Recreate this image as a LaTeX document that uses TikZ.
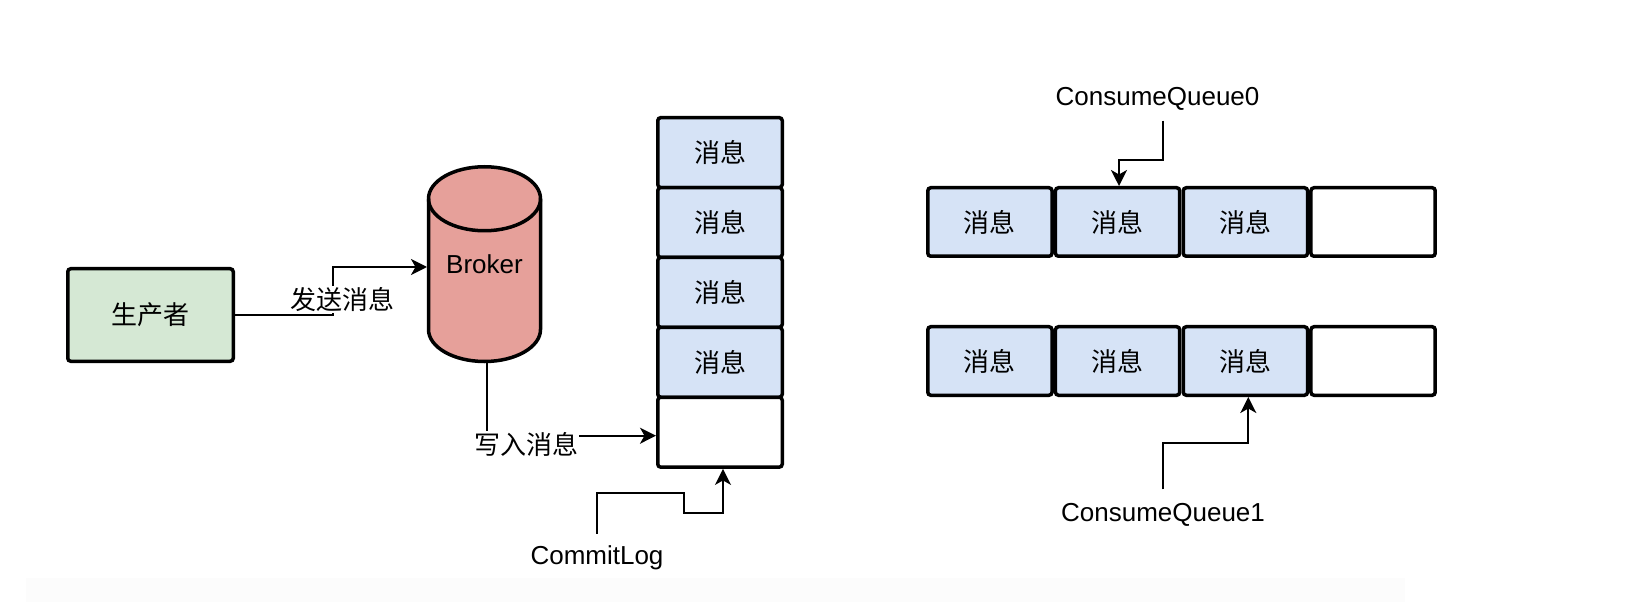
\documentclass[tikz,border=0pt]{standalone}
\usepackage{fontspec}
\setmainfont{Liberation Sans}
\newfontfamily\cjk{Noto Sans CJK SC}
\usetikzlibrary{arrows.meta}
\definecolor{grn}{HTML}{D5E8D4}
\definecolor{blu}{HTML}{D6E3F6}
\definecolor{redc}{HTML}{E6A09A}
\definecolor{stripc}{HTML}{FCFCFC}
\begin{document}
\begin{tikzpicture}[x=1pt,y=-1pt,
  box/.style={draw, line width=3.5pt, rounded corners=3pt, inner sep=0pt},
  cell/.style={box, fill=blu, font=\fontsize{26}{30}\selectfont\cjk},
  vcell/.style={cell, minimum width=124.5pt, minimum height=69.9pt},
  hcell/.style={cell, minimum width=124.25pt, minimum height=68.5pt},
  emptycell/.style={fill=white},
  conn/.style={line width=2.2pt},
  arr/.style={conn, -{Stealth[length=16pt,width=16pt,inset=4.5pt]}},
  lbl/.style={fill=white, inner sep=1pt, font=\fontsize{26}{30}\selectfont\cjk},
  txt/.style={inner sep=2pt, font=\fontsize{26}{30}\selectfont}
]
\useasboundingbox (0,0) rectangle (1652,612);
\fill[stripc] (26,578) rectangle (1405,602);

% producer
\node[box, fill=grn, minimum width=165.5pt, minimum height=92.5pt,
      font=\fontsize{26}{30}\selectfont\cjk] (prod) at (150.5,315) {生产者};

% broker cylinder
\path[draw, line width=3.5pt, fill=redc]
  (428.5,198.75) -- (428.5,329.5)
  arc[start angle=180, end angle=0, x radius=56, y radius=32]
  -- (540.5,198.75)
  arc[start angle=0, end angle=-180, x radius=56, y radius=32] -- cycle;
\draw[line width=3.5pt] (428.5,198.75)
  arc[start angle=180, end angle=0, x radius=56, y radius=32];
\node[minimum width=112pt, minimum height=194.5pt, inner sep=0pt,
      font=\fontsize{26}{30}\selectfont] (broker) at (484.5,264) {Broker};
\coordinate (bin) at (427,267);

% commit log column
\node[vcell] (c1) at (720,152.6) {消息};
\node[vcell] (c2) at (720,222.5) {消息};
\node[vcell] (c3) at (720,292.4) {消息};
\node[vcell] (c4) at (720,362.3) {消息};
\node[vcell, emptycell] (c5) at (720,432.2) {};

% consume queue 0
\node[hcell] (q01) at (989.9,222) {消息};
\node[hcell] (q02) at (1117.6,222) {消息};
\node[hcell] (q03) at (1245.4,222) {消息};
\node[hcell, emptycell] (q04) at (1373.1,222) {};

% consume queue 1
\node[hcell] (q11) at (989.9,361) {消息};
\node[hcell] (q12) at (1117.6,361) {消息};
\node[hcell] (q13) at (1245.4,361) {消息};
\node[hcell, emptycell] (q14) at (1373.1,361) {};

% labels
\node[txt] (cl) at (597,558) {CommitLog};
\node[txt] (cq0) at (1157.5,99) {ConsumeQueue0};
\node[txt] (cq1) at (1163,515) {ConsumeQueue1};

% connectors
\draw[arr] (prod.east) -- (333,315) |- (bin);
\node[lbl] (send) at (342.5,299.5) {发送消息};

\draw[arr] (broker.south -| 486.7,0) |- (c5.west |- 0,435.7);
\node[lbl] (write) at (526,444) {写入消息};

\draw[arr] ([yshift=10pt]cl.north) |- (684,493) |- (723,513) -- (c5.south -| 723,0);
\draw[arr] ([yshift=-8pt]cq0.south -| 1163.3,0) |- (1119,160) -- (q02.north -| 1119,0);
\draw[arr] ([yshift=12pt]cq1.north) |- (1248.3,443.3) -- (q13.south -| 1248.3,0);
\end{tikzpicture}
\end{document}
